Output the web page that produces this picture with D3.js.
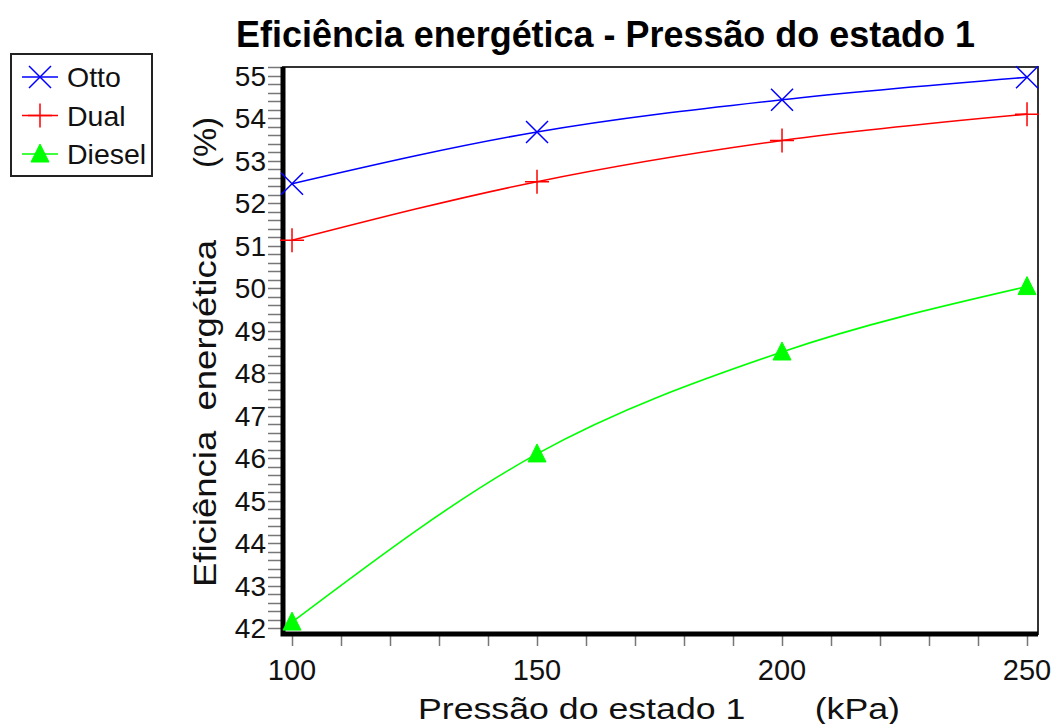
<!DOCTYPE html>
<html>
<head>
<meta charset="utf-8">
<script src="https://cdn.jsdelivr.net/npm/d3@7"></script>
<style>
  body { margin: 0; background: #fff; }
  svg { font-family: "Liberation Sans", Arial, sans-serif; }
</style>
</head>
<body>
<svg width="1053" height="724"></svg>
<script>
// pressure of state 1 (kPa)
const pressures = [100, 150, 200, 250];
// energy efficiency (%)
const otto = [52.46, 53.68, 54.44, 54.97];
const dual = [51.13, 52.51, 53.48, 54.10];
const diesel = [42.14, 46.10, 48.50, 50.04];

const xTicks = [100, 150, 200, 250];
const yTicks = [42, 43, 44, 45, 46, 47, 48, 49, 50, 51, 52, 53, 54, 55];

let svg = d3.select("svg");

let plotLeft = 283, plotRight = 1038, plotTop = 67, plotBottom = 634;

let x = d3.scaleLinear().domain([98.16, 252.24]).range([plotLeft, plotRight]);
let y = d3.scaleLinear().domain([41.86, 55.21]).range([plotBottom, plotTop]);

// minor ticks
let yMinor = d3.range(420, 553, 2).map(d => d / 10);
let xMinor = d3.range(100, 251, 10);

svg.append("g")
  .selectAll("line")
  .data(yMinor)
  .enter().append("line")
  .attr("x1", plotLeft - 15)
  .attr("x2", plotLeft)
  .attr("y1", d => Math.round(y(d)) + 0.5)
  .attr("y2", d => Math.round(y(d)) + 0.5)
  .attr("stroke", "#777")
  .attr("stroke-width", 1.5);

svg.append("g")
  .selectAll("line")
  .data(xMinor)
  .enter().append("line")
  .attr("x1", d => Math.round(x(d)) + 0.5)
  .attr("x2", d => Math.round(x(d)) + 0.5)
  .attr("y1", plotBottom)
  .attr("y2", plotBottom + 12)
  .attr("stroke", "#777")
  .attr("stroke-width", 1.5);

// frame
svg.append("rect")
  .attr("x", plotLeft).attr("y", plotTop)
  .attr("width", plotRight - plotLeft).attr("height", plotBottom - plotTop)
  .attr("fill", "none")
  .attr("stroke", "#333")
  .attr("stroke-width", 2);

svg.append("path")
  .attr("d", "M" + plotLeft + "," + plotTop + "V" + plotBottom + "H" + plotRight)
  .attr("fill", "none")
  .attr("stroke", "#000")
  .attr("stroke-width", 5);

// tick labels
svg.append("g")
  .selectAll("text")
  .data(yTicks)
  .enter().append("text")
  .attr("x", plotLeft - 17)
  .attr("y", d => y(d) + 10)
  .attr("text-anchor", "end")
  .attr("font-size", 28)
  .attr("fill", "#111")
  .text(d => d);

svg.append("g")
  .selectAll("text")
  .data(xTicks)
  .enter().append("text")
  .attr("x", d => x(d))
  .attr("y", 680)
  .attr("text-anchor", "middle")
  .attr("font-size", 29)
  .attr("fill", "#111")
  .text(d => d);

// axis titles
svg.append("text")
  .attr("x", 418)
  .attr("y", 719)
  .attr("font-size", 30)
  .attr("fill", "#111")
  .attr("xml:space", "preserve")
  .attr("textLength", 482)
  .attr("lengthAdjust", "spacingAndGlyphs")
  .text("Pressão do estado 1       (kPa)");

svg.append("text")
  .attr("transform", "translate(216,587) rotate(-90)")
  .attr("font-size", 31)
  .attr("fill", "#111")
  .attr("xml:space", "preserve")
  .attr("textLength", 347)
  .attr("lengthAdjust", "spacingAndGlyphs")
  .text("Eficiência  energética");

svg.append("text")
  .attr("transform", "translate(216,168) rotate(-90)")
  .attr("font-size", 31)
  .attr("fill", "#111")
  .attr("textLength", 51)
  .attr("lengthAdjust", "spacingAndGlyphs")
  .text("(%)");

svg.append("text")
  .attr("x", 236)
  .attr("y", 47)
  .attr("font-size", 36)
  .attr("font-weight", "bold")
  .attr("fill", "#000")
  .attr("textLength", 739)
  .attr("lengthAdjust", "spacingAndGlyphs")
  .text("Eficiência energética - Pressão do estado 1");

// series
let series = [
  { name: "Otto", values: otto, color: "#0000ff", marker: "x" },
  { name: "Dual", values: dual, color: "#ff0000", marker: "plus" },
  { name: "Diesel", values: diesel, color: "#00ff00", marker: "tri" }
];

let line = d3.line()
  .x(d => x(d[0]))
  .y(d => y(d[1]))
  .curve(d3.curveMonotoneX);

function drawMarker(g, kind, color) {
  if (kind == "x") {
    g.append("path").attr("d", "M-11,-11L11,11M-11,11L11,-11")
      .attr("stroke", color).attr("stroke-width", 1.5).attr("fill", "none");
  } else if (kind == "plus") {
    g.append("path").attr("d", "M-12,0H12M0,-12V12")
      .attr("stroke", color).attr("stroke-width", 1.5).attr("fill", "none");
  } else {
    g.append("path").attr("d", "M0,-10L9,8H-9Z")
      .attr("fill", color).attr("stroke", color).attr("stroke-width", 1);
  }
}

series.forEach(function(s) {
  let pts = pressures.map((p, i) => [p, s.values[i]]);
  svg.append("path")
    .datum(pts)
    .attr("d", line)
    .attr("fill", "none")
    .attr("stroke", s.color)
    .attr("stroke-width", 1.6);
  pts.forEach(function(p) {
    let g = svg.append("g")
      .attr("transform", "translate(" + x(p[0]) + "," + y(p[1]) + ")");
    drawMarker(g, s.marker, s.color);
  });
});

// legend
let legend = svg.append("g");
legend.append("rect")
  .attr("x", 11).attr("y", 54)
  .attr("width", 141).attr("height", 122)
  .attr("fill", "#fff")
  .attr("stroke", "#222")
  .attr("stroke-width", 2);

series.forEach(function(s, i) {
  let cy = 77 + i * 38.5;
  legend.append("line")
    .attr("x1", 22).attr("x2", 58)
    .attr("y1", cy).attr("y2", cy)
    .attr("stroke", s.color).attr("stroke-width", 1.6);
  let g = legend.append("g").attr("transform", "translate(40," + cy + ")");
  drawMarker(g, s.marker, s.color);
  legend.append("text")
    .attr("x", 67)
    .attr("y", cy + 10)
    .attr("font-size", 28.5)
    .attr("fill", "#111")
    .text(s.name);
});
</script>
</body>
</html>
